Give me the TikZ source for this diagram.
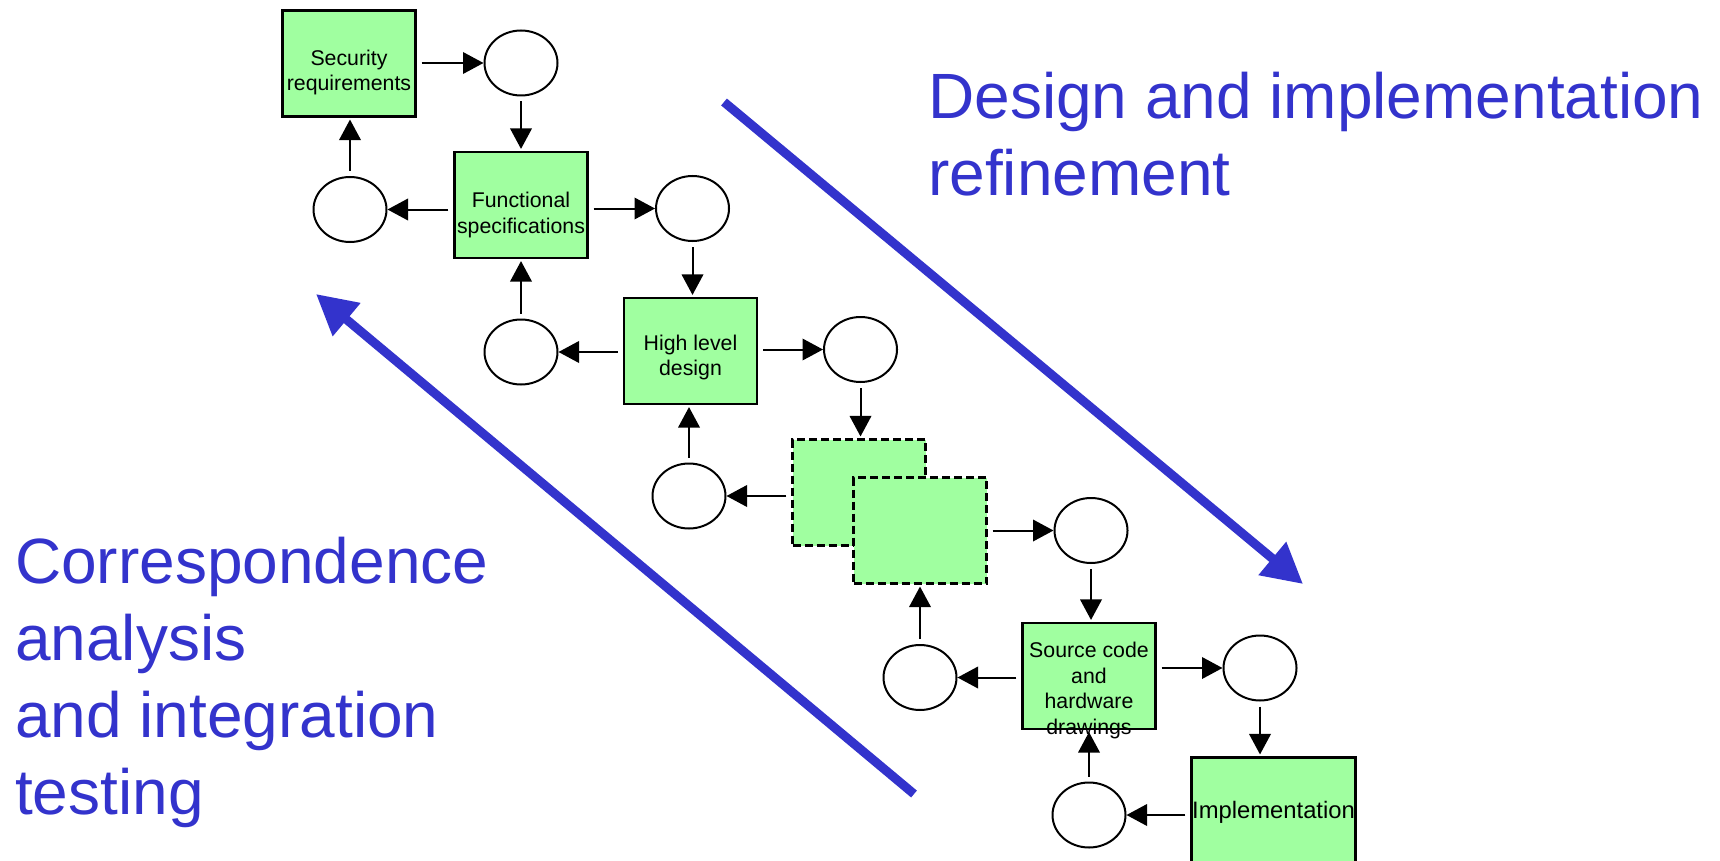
\documentclass[tikz,border=0pt]{standalone}
\usepackage{fontspec}
\setmainfont{Liberation Sans}
\usetikzlibrary{shapes.geometric,arrows.meta}
\definecolor{boxgreen}{RGB}{160,255,160}
\definecolor{myblue}{RGB}{51,51,204}
\tikzset{
  box/.style={draw, line width=2.1pt, fill=boxgreen, minimum width=133pt, minimum height=106pt, inner sep=0pt},
  dbox/.style={box, dash pattern=on 8pt off 4pt},
  circ/.style={ellipse, draw, line width=2pt, fill=white, minimum width=73pt, minimum height=65pt, inner sep=0pt},
  lbl/.style={align=center, inner sep=0pt, font=\fontsize{21.3}{25.7}\selectfont},
  arr/.style={line width=2pt, -{Triangle[length=20.5pt,width=21.5pt]}, shorten <=5pt},
  tobox/.style={shorten >=2pt},
  bigtext/.style={text=myblue, align=left, inner sep=0pt, anchor=north west, font=\fontsize{64}{77}\selectfont},
  bigarrow/.style={line width=9pt, draw=myblue, -{Triangle[length=40pt,width=41pt]}}
}
\begin{document}
\begin{tikzpicture}[x=1pt,y=-1pt]
\useasboundingbox (0,0) rectangle (1720,861);
\clip (0,0) rectangle (1720,861);

% big blue arrows
\coordinate (b1s) at (724,102);
\coordinate (b1e) at (1303,584);
\coordinate (b2s) at (914,794);
\coordinate (b2e) at (316,294);
\draw[bigarrow] (b1s) -- (b1e);
\draw[bigarrow] (b2s) -- (b2e);

% big texts
\node[bigtext] (designT) at (928,72.3) {Design and implementation\\refinement};
\node[bigtext] (corrT) at (15,536.5) {Correspondence\\analysis\\and integration\\testing};

% boxes
\node[box] (sec) at (349,63.5) {};
\node[box] (fs) at (521,205) {};
\node[box] (hld) at (690.5,351) {};
\node[dbox] (d1) at (859,492.5) {};
\node[dbox] (d2) at (920,530.5) {};
\node[box] (sc) at (1089,676) {};
\node[box, minimum width=164pt] (impl) at (1273.5,810.5) {};

% box texts
\node[lbl] (secT) at (349,72.5) {Security\\requirements};
\node[lbl] (fsT) at (521,215) {Functional\\specifications};
\node[lbl] (hldT) at (690.5,357.5) {High level\\design};
\node[lbl] (scT) at (1089,690.5) {Source code\\and\\hardware\\drawings};
\node[lbl, font=\fontsize{23.8}{28}\selectfont] (implT) at (1273.5,812.4) {Implementation};

% circles
\node[circ] (c1) at (521,63) {};
\node[circ] (c2) at (350,209.5) {};
\node[circ] (c3) at (692.5,208.5) {};
\node[circ] (cL2) at (521,352) {};
\node[circ] (c4) at (860.5,349.5) {};
\node[circ] (c5) at (689,496) {};
\node[circ] (c6) at (1091,530.5) {};
\node[circ] (c7) at (920,677.5) {};
\node[circ] (c8) at (1260,668) {};
\node[circ] (c9) at (1089,815) {};

% connectors
\draw[arr] (sec.east |- c1) -- (c1);
\draw[arr,tobox] (c1) -- (c1 |- fs.north);
\draw[arr] (fs.west |- c2) -- (c2);
\draw[arr,tobox] (c2) -- (c2 |- sec.south);
\draw[arr] (fs.east |- c3) -- (c3);
\draw[arr,tobox] (c3) -- (c3 |- hld.north);
\draw[arr] (hld.west |- cL2) -- (cL2);
\draw[arr,tobox] (cL2) -- (cL2 |- fs.south);
\draw[arr] (hld.east |- c4) -- (c4);
\draw[arr,tobox] (c4) -- (c4 |- d1.north);
\draw[arr] (d1.west |- c5) -- (c5);
\draw[arr,tobox] (c5) -- (c5 |- hld.south);
\draw[arr] (d2.east |- c6) -- (c6);
\draw[arr,tobox] (c6) -- (c6 |- sc.north);
\draw[arr] (sc.west |- c7) -- (c7);
\draw[arr,tobox] (c7) -- (c7 |- d2.south);
\draw[arr] (sc.east |- c8) -- (c8);
\draw[arr,tobox] (c8) -- (c8 |- impl.north);
\draw[arr] (impl.west |- c9) -- (c9);
\draw[arr,tobox] (c9) -- (c9 |- sc.south);
\end{tikzpicture}
\end{document}
